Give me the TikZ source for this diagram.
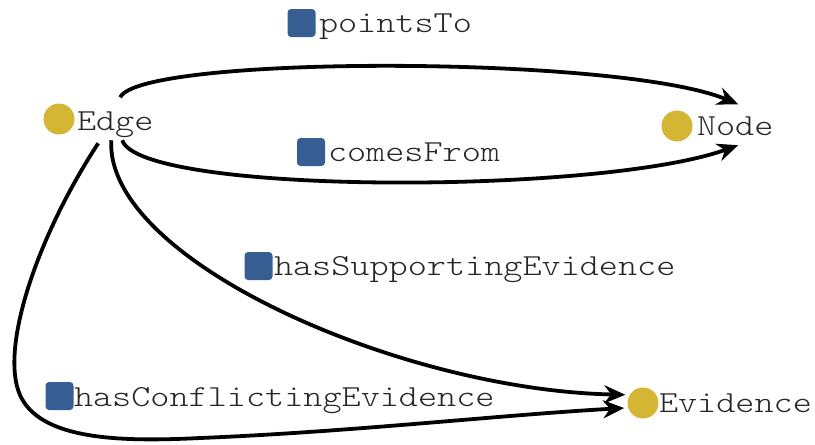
\documentclass[tikz,border=0pt]{standalone}
\usepackage{fontspec}
\newfontfamily\lblfont[FakeStretch=1.19]{Latin Modern Mono Light}
\usetikzlibrary{arrows.meta}
\definecolor{classgold}{RGB}{212,181,52}
\definecolor{propblue}{RGB}{54,94,146}
\tikzstyle{class} = [circle, fill=classgold, minimum size=15.5pt, inner sep=0pt, outer sep=2pt]
\tikzstyle{prop} = [rectangle, rounded corners=1.8pt, fill=propblue, minimum size=14pt, inner sep=0pt]
\tikzstyle{lbl} = [anchor=base west, inner sep=0pt, outer sep=0pt, font=\lblfont\fontsize{15.3}{18}\selectfont, text=black!85]
\tikzstyle{arrow} = [line width=1.9pt, ->, >={Stealth[length=10.5pt,width=9pt]}]
\begin{document}
\begin{tikzpicture}[x=0.5pt, y=-0.5pt]
        \useasboundingbox (0,0) rectangle (815,445);
        % classes
        \node (edgecls) [class] at (59,119) {};
        \node (edgelbl) [lbl] at (77,130) {Edge};
        \node (nodecls) [class] at (677,126) {};
        \node (nodelbl) [lbl] at (697,135) {Node};
        \node (evidcls) [class] at (643,403) {};
        \node (evidlbl) [lbl] at (659,412) {Evidence};
        % properties
        \node (pto) [prop] at (301.5,23) {};
        \node (ptolbl) [lbl] at (319,32) {pointsTo};
        \node (cfrom) [prop] at (311,152) {};
        \node (cfromlbl) [lbl] at (328,161) {comesFrom};
        \node (hsup) [prop] at (258.5,266) {};
        \node (hsuplbl) [lbl] at (274,275) {hasSupportingEvidence};
        \node (hconf) [prop] at (59.5,396) {};
        \node (hconflbl) [lbl] at (74,406) {hasConflictingEvidence};
        % connectors
        \draw [arrow] ([shift={(2.5pt,7pt)}]edgelbl.north) .. controls (140,55) and (620,55) .. ([shift={(1.5pt,6pt)}]nodelbl.north);
        \draw [arrow] ([shift={(3.5pt,-1.5pt)}]edgelbl.south) .. controls (140,195) and (600,195) .. ([shift={(1.5pt,-5pt)}]nodelbl.south);
        \draw [arrow] ([shift={(-2pt,-1.5pt)}]edgelbl.south) .. controls (105,260) and (400,390) .. (evidcls.155);
        \draw [arrow] ([shift={(-8.5pt,-3pt)}]edgelbl.south) .. controls (35,240) and (0,350) .. (20,395)
              .. controls (40,440) and (120,442) .. (200,438) .. controls (350,432) and (500,415) .. (evidcls.195);
\end{tikzpicture}
\end{document}
